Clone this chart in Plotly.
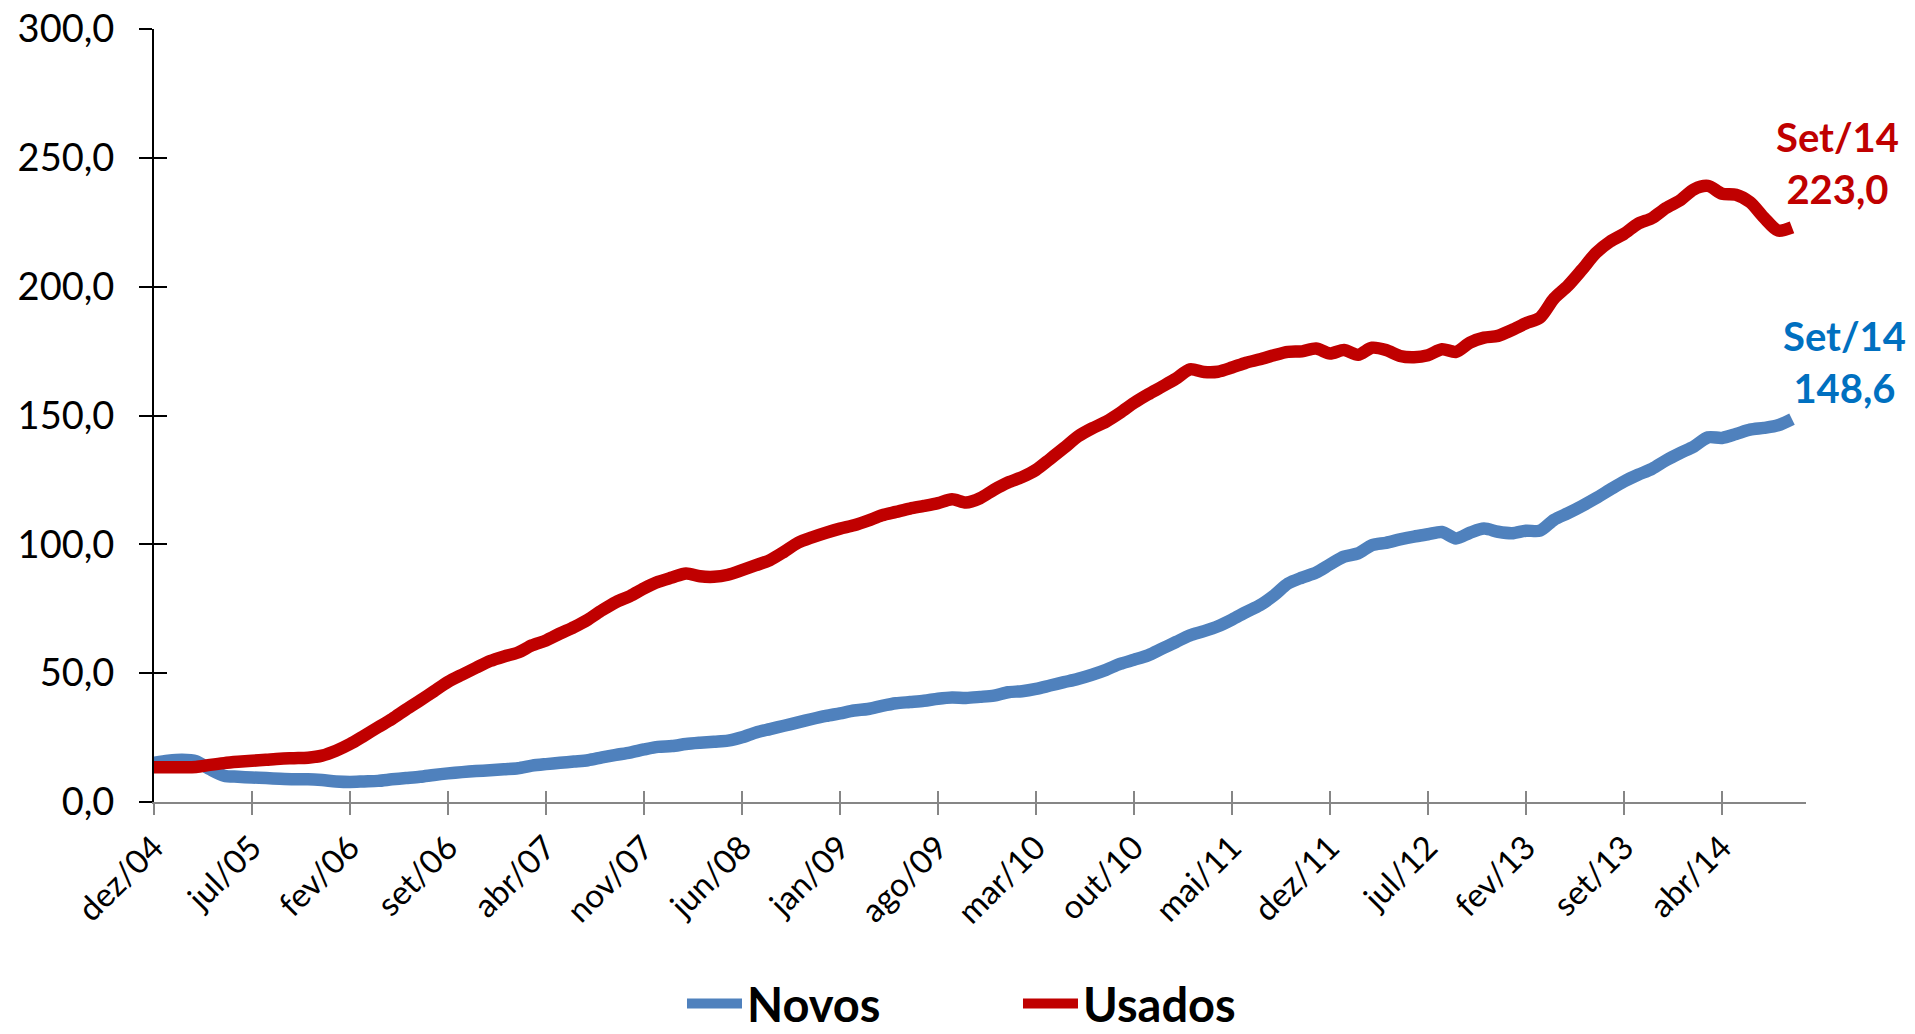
import plotly.graph_objects as go

# meses em português, série mensal de dez/04 até set/14
meses = ['jan', 'fev', 'mar', 'abr', 'mai', 'jun', 'jul', 'ago', 'set', 'out', 'nov', 'dez']
periodos = [f"{meses[(11 + i) % 12]}/{4 + (11 + i) // 12:02d}" for i in range(118)]

novos = [
    15.2, 16.0, 16.4, 15.8, 12.7, 10.2, 9.8, 9.5, 9.3, 9.0, 8.8, 8.8,
    8.5, 8.0, 7.8, 8.0, 8.2, 8.8, 9.3, 9.8, 10.5, 11.1, 11.6, 12.0,
    12.3, 12.7, 13.1, 14.1, 14.7, 15.2, 15.7, 16.2, 17.3, 18.3, 19.2, 20.4,
    21.4, 21.7, 22.5, 23.0, 23.4, 23.8, 25.1, 27.0, 28.3, 29.6, 30.9, 32.2,
    33.4, 34.4, 35.5, 36.1, 37.3, 38.3, 38.8, 39.3, 40.1, 40.6, 40.4, 40.8,
    41.3, 42.6, 43.0, 43.9, 45.2, 46.5, 47.8, 49.4, 51.3, 53.6, 55.2, 56.9,
    59.5, 62.1, 64.7, 66.3, 68.2, 70.8, 73.7, 76.4, 80.2, 84.8, 87.1, 89.0,
    92.2, 95.2, 96.5, 99.7, 100.6, 101.9, 103.0, 103.9, 104.8, 102.3, 104.5, 106.1,
    104.9, 104.3, 105.3, 105.3, 109.5, 112.1, 114.9, 117.9, 121.2, 124.4, 127.0, 129.3,
    132.6, 135.4, 138.0, 141.5, 141.3, 142.8, 144.5, 145.2, 146.2, 148.6,
]

usados = [
    13.5, 13.5, 13.5, 13.6, 14.4, 15.1, 15.6, 16.0, 16.4, 16.8, 17.0, 17.2,
    18.0, 19.9, 22.5, 25.7, 29.0, 32.2, 35.9, 39.4, 43.0, 46.6, 49.4, 52.1,
    54.7, 56.5, 58.0, 60.8, 62.7, 65.4, 67.9, 70.8, 74.4, 77.6, 79.9, 82.9,
    85.4, 87.1, 88.7, 87.6, 87.4, 88.2, 90.0, 91.9, 93.9, 97.1, 100.6, 102.7,
    104.5, 106.1, 107.4, 109.2, 111.3, 112.6, 113.9, 114.9, 116.0, 117.5, 116.2, 117.9,
    121.2, 124.0, 126.1, 128.9, 133.1, 137.4, 141.9, 145.0, 147.6, 151.0, 154.9, 158.2,
    161.2, 164.3, 167.9, 166.9, 167.0, 168.6, 170.5, 171.8, 173.4, 174.7, 174.9, 176.0,
    174.1, 175.4, 173.6, 176.3, 175.4, 173.1, 172.6, 173.4, 175.7, 174.7, 178.3, 180.2,
    180.9, 183.2, 185.8, 188.0, 195.4, 200.4, 206.6, 213.1, 217.5, 220.5, 224.4, 226.6,
    230.5, 233.5, 237.8, 239.1, 236.1, 235.7, 232.8, 226.8, 221.8, 223.0,
]

rotulos_x = periodos[::7]
valores_y = [0, 50, 100, 150, 200, 250, 300]
rotulos_y = [f"{v:.1f}".replace('.', ',') for v in valores_y]

AZUL = '#4F81BD'
VERMELHO = '#C00000'
CINZA = '#868686'
FONTE = 'Lato'


def rotulo_final(valor):
    return f"Set/14<br>{valor:.1f}".replace('.', ',')


fig = go.Figure()

fig.add_trace(go.Scatter(
    x=periodos, y=novos, name='Novos', mode='lines',
    line=dict(color=AZUL, width=12.5, shape='spline', smoothing=0.8),
))
fig.add_trace(go.Scatter(
    x=periodos, y=usados, name='Usados', mode='lines',
    line=dict(color=VERMELHO, width=12.5, shape='spline', smoothing=0.8),
))
# traço vazio só para os eixos sobrepostos (marcas cruzando o eixo)
fig.add_trace(go.Scatter(
    x=periodos, y=[None] * len(periodos), xaxis='x2', yaxis='y2',
    mode='lines', showlegend=False, hoverinfo='skip',
))

fig.add_annotation(
    x=periodos[-1], y=usados[-1], text=rotulo_final(usados[-1]),
    showarrow=False, xshift=45, yshift=64,
    font=dict(family=FONTE, size=40, color=VERMELHO, weight='bold'),
)
fig.add_annotation(
    x=periodos[-1], y=novos[-1], text=rotulo_final(novos[-1]),
    showarrow=False, xshift=52, yshift=57,
    font=dict(family=FONTE, size=40, color='#0070C0', weight='bold'),
)

eixo_x = dict(
    type='category', categoryorder='array', categoryarray=periodos,
    range=[0, 118], tickvals=rotulos_x, showgrid=False, zeroline=False,
    automargin=False,
)
eixo_y = dict(range=[0, 300], tickvals=valores_y, showgrid=False, zeroline=False,
              automargin=False)

fig.update_layout(
    width=1915, height=1034,
    margin=dict(l=154, r=109, t=29, b=232),
    plot_bgcolor='white', paper_bgcolor='white',
    font=dict(family=FONTE, color='black'),
    xaxis=dict(
        **eixo_x, ticktext=rotulos_x, tickangle=-45,
        showline=True, linecolor=CINZA, linewidth=2,
        ticks='outside', ticklen=11, tickwidth=2, tickcolor=CINZA,
        tickfont=dict(family=FONTE, size=33, color='black'),
    ),
    yaxis=dict(
        **eixo_y, ticktext=rotulos_y,
        showline=True, linecolor='black', linewidth=2,
        ticks='outside', ticklen=13, tickwidth=2, tickcolor='black',
        ticklabelstandoff=17,
        tickfont=dict(family=FONTE, size=38, color='black'),
    ),
    xaxis2=dict(
        **eixo_x, overlaying='x', anchor='y2', showline=False, showticklabels=False,
        ticks='inside', ticklen=11, tickwidth=2, tickcolor=CINZA,
    ),
    yaxis2=dict(
        **eixo_y, overlaying='y', anchor='x2', side='left', showline=False,
        showticklabels=False, ticks='inside', ticklen=13, tickwidth=2, tickcolor='black',
    ),
    legend=dict(
        orientation='h', x=0.523, xanchor='center',
        yref='container', y=0.029, yanchor='middle',
        font=dict(family=FONTE, size=47, color='black', weight='bold'),
        itemwidth=55, entrywidth=266,
    ),
    showlegend=True,
)

fig.write_html("out.html", config={'displayModeBar': False},
               post_script="document.body.style.margin='0';")
